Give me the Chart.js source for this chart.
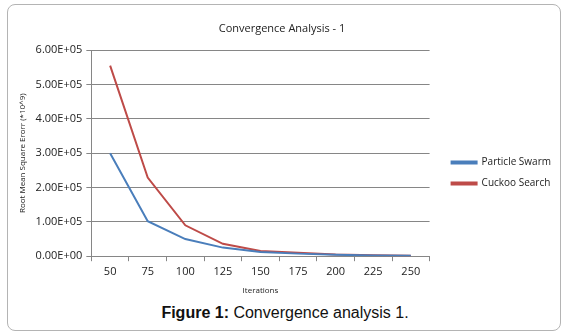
<!DOCTYPE html>
<html>
<head>
<meta charset="utf-8">
<script src="https://cdn.jsdelivr.net/npm/chart.js@4.4.1/dist/chart.umd.min.js"></script>
<style>
  body { margin: 0; background: #fff; }
  #frame { position: absolute; left: 7px; top: 4px; width: 552px; height: 325px;
           border: 1px solid #b4b4b4; border-radius: 8px; }
  #wrap { position: absolute; left: 0; top: 0; width: 570px; height: 300px; }
  #caption { position: absolute; left: 0; top: 304px; width: 570px; text-align: center;
             font-family: "Liberation Sans", Arial, sans-serif; font-size: 16px; color: #111; }
</style>
</head>
<body>
<div id="frame"></div>
<div id="wrap"><canvas id="myChart" width="570" height="300"></canvas></div>
<div id="caption"><b>Figure 1:</b> Convergence analysis 1.</div>
<script>
const iterations = ["50", "75", "100", "125", "150", "175", "200", "225", "250"];
const particleSwarm = [300000, 102000, 50000, 25000, 12000, 7500, 4000, 2000, 1000];
const cuckooSearch = [555000, 229000, 90000, 36000, 15000, 10000, 5000, 3000, 1000];
const yTickLabels = ["0.00E+00", "1.00E+05", "2.00E+05", "3.00E+05", "4.00E+05", "5.00E+05", "6.00E+05"];

// nudge the legend a bit right of the plot, like the original
const legendShift = {
  id: "legendShift",
  afterLayout(chart) {
    chart.legend.left += 11;
    chart.legend.right += 11;
  },
};

document.addEventListener("DOMContentLoaded", function () {
  const ctx = document.getElementById("myChart").getContext("2d");
  const font = "'Open Sans', sans-serif";
  new Chart(ctx, {
    type: "line",
    data: {
      labels: iterations,
      datasets: [
        {
          label: "Particle Swarm",
          data: particleSwarm,
          borderColor: "#4a7ebb",
          backgroundColor: "#4a7ebb",
          borderWidth: 2,
          pointRadius: 0,
          tension: 0,
        },
        {
          label: "Cuckoo Search",
          data: cuckooSearch,
          borderColor: "#be4b48",
          backgroundColor: "#be4b48",
          borderWidth: 2,
          pointRadius: 0,
          tension: 0,
        },
      ],
    },
    options: {
      responsive: false,
      animation: false,
      layout: { padding: { left: 14, right: 20, top: 8, bottom: 0 } },
      plugins: {
        title: {
          display: true,
          text: "Convergence Analysis - 1",
          color: "#222",
          font: { family: font, size: 11, weight: "normal" },
          padding: { top: 14, bottom: 15 },
        },
        legend: {
          position: "right",
          title: { display: true, text: " ", font: { size: 10 }, padding: 13 },
          labels: {
            boxWidth: 25,
            boxHeight: 2,
            color: "#222",
            font: { family: font, size: 10 },
            padding: 11,
          },
        },
        tooltip: { enabled: false },
      },
      scales: {
        x: {
          offset: true,
          grid: { offset: true, drawOnChartArea: false, tickLength: 5, color: "#868686" },
          border: { color: "#868686" },
          ticks: { color: "#222", font: { family: font, size: 11 }, padding: 4, maxRotation: 0 },
          title: { display: true, text: "Iterations", color: "#222", font: { family: font, size: 8 }, padding: { top: 4 } },
        },
        y: {
          min: 0,
          max: 600000,
          grid: { color: "#868686", tickLength: 5 },
          border: { color: "#868686" },
          ticks: {
            stepSize: 100000,
            color: "#222",
            font: { family: font, size: 11 },
            padding: 4,
            callback: function (value, index) {
              return yTickLabels[index];
            },
          },
          title: { display: true, text: "Root Mean Square Erorr (*10^9)", color: "#222", font: { family: font, size: 8 }, padding: { bottom: 4 } },
        },
      },
    },
    plugins: [legendShift],
  });
});
</script>
</body>
</html>
